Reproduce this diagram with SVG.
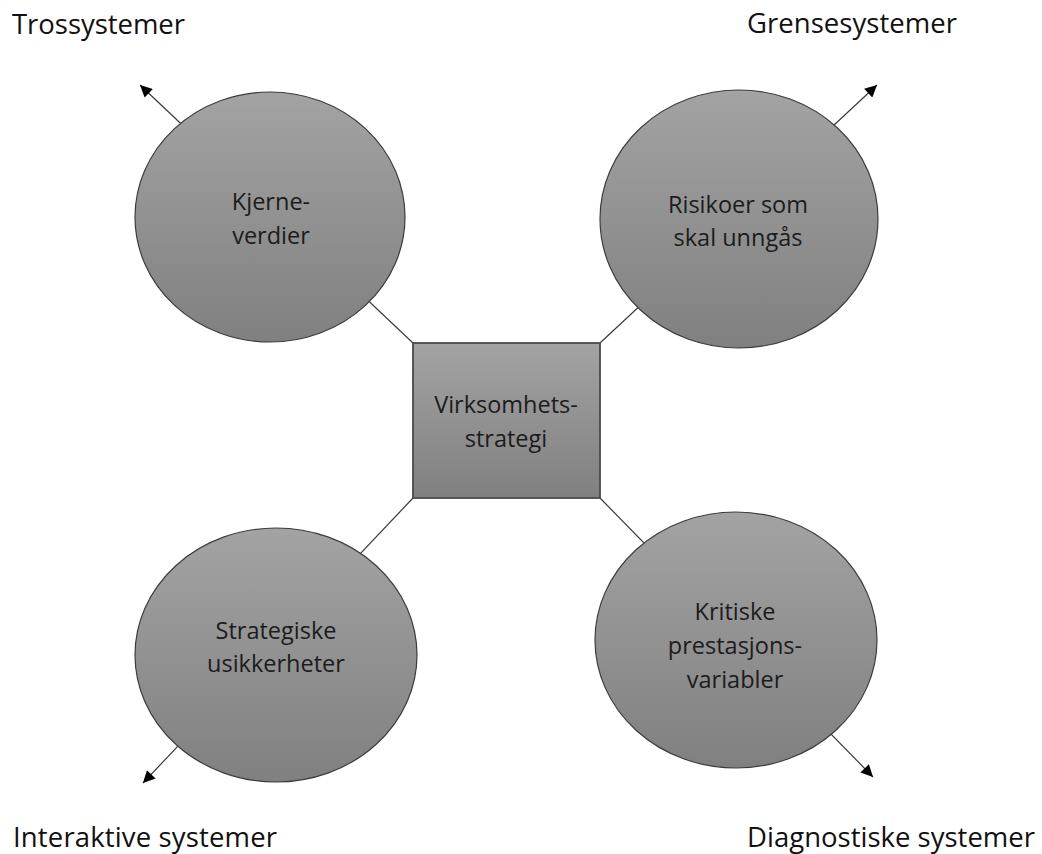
<svg xmlns="http://www.w3.org/2000/svg" width="1042" height="854" viewBox="0 0 1042 854">
  <style>
    .lbl { font-family: "Open Sans", "Liberation Sans", sans-serif; font-size: 27.5px; fill: #111; }
    .txt { font-family: "Open Sans", "Liberation Sans", sans-serif; font-size: 23.5px; fill: #1c1c1c; text-anchor: middle; }
    .conn { stroke: #3a3a3a; stroke-width: 1.2; fill: none; marker-end: url(#arrow); }
    .circ { fill: url(#grad); stroke: #3c3c3c; stroke-width: 1.2; }
    .box { fill: url(#grad); stroke: #4a4a4a; stroke-width: 1.8; }
  </style>
  <defs>
    <linearGradient id="grad" x1="0" y1="0" x2="0" y2="1">
      <stop offset="0" stop-color="#a3a3a3"/>
      <stop offset="1" stop-color="#808080"/>
    </linearGradient>
    <marker id="arrow" viewBox="0 0 10 10" refX="10" refY="5" markerWidth="14" markerHeight="12" markerUnits="userSpaceOnUse" orient="auto">
      <path d="M0,0 L10,5 L0,10 z" fill="#000"/>
    </marker>
  </defs>
  <rect width="1042" height="854" fill="#fff"/>

  <g id="labels">
    <text class="lbl" x="12" y="34" textLength="173">Trossystemer</text>
    <text class="lbl" x="747" y="33" textLength="210">Grensesystemer</text>
    <text class="lbl" x="13" y="847" textLength="264">Interaktive systemer</text>
    <text class="lbl" x="747" y="847" textLength="288">Diagnostiske systemer</text>
  </g>

  <g id="connectors">
    <line class="conn" x1="413" y1="343" x2="140" y2="85"/>
    <line class="conn" x1="600" y1="343" x2="877" y2="85"/>
    <line class="conn" x1="413" y1="498" x2="143" y2="783"/>
    <line class="conn" x1="600" y1="498" x2="873" y2="777"/>
  </g>

  <g id="node-kjerneverdier">
    <ellipse class="circ" cx="270" cy="217" rx="135" ry="125"/>
    <text class="txt" x="271" y="210">Kjerne-</text>
    <text class="txt" x="271" y="244">verdier</text>
  </g>

  <g id="node-risikoer">
    <ellipse class="circ" cx="739" cy="219" rx="139" ry="129"/>
    <text class="txt" x="738" y="213">Risikoer som</text>
    <text class="txt" x="738" y="246">skal unngås</text>
  </g>

  <g id="node-strategiske">
    <ellipse class="circ" cx="276" cy="655" rx="141" ry="127"/>
    <text class="txt" x="276" y="639">Strategiske</text>
    <text class="txt" x="276" y="672">usikkerheter</text>
  </g>

  <g id="node-kritiske">
    <ellipse class="circ" cx="736" cy="640" rx="141" ry="128"/>
    <text class="txt" x="735" y="620">Kritiske</text>
    <text class="txt" x="735" y="654">prestasjons-</text>
    <text class="txt" x="735" y="688">variabler</text>
  </g>

  <g id="node-virksomhetsstrategi">
    <rect class="box" x="413" y="343" width="187" height="155"/>
    <text class="txt" x="506" y="413">Virksomhets-</text>
    <text class="txt" x="506" y="447">strategi</text>
  </g>
</svg>
